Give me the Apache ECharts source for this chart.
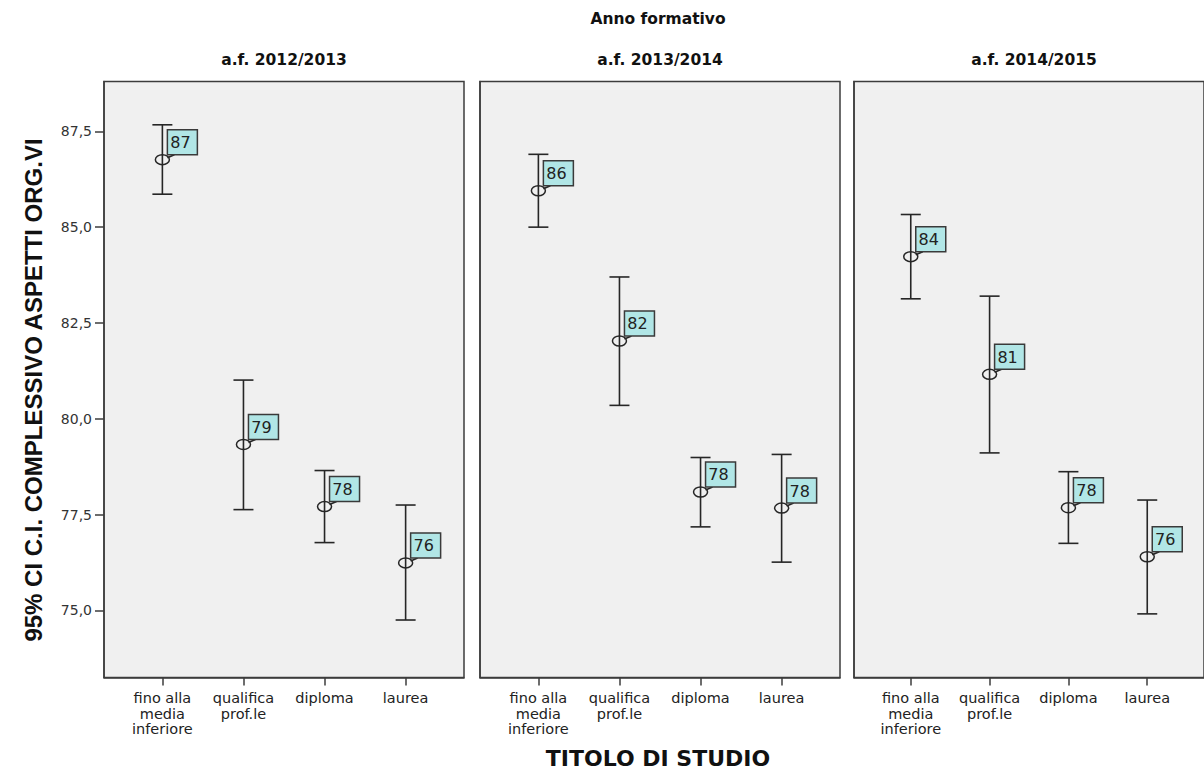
<!DOCTYPE html>
<html><head><meta charset="utf-8">
<script src="https://cdn.jsdelivr.net/npm/echarts@6/dist/echarts.min.js"></script>
<style>html,body{margin:0;padding:0;background:#fff}#c{width:1204px;height:772px}</style>
</head><body><div id="c"></div>
<script>
// ---- data ----
const categories = ['fino alla\nmedia\ninferiore', 'qualifica\nprof.le', 'diploma', 'laurea'];
const panelTitles = ['a.f. 2012/2013', 'a.f. 2013/2014', 'a.f. 2014/2015'];
const means2012 = [86.76, 79.33, 77.71, 76.24];
const lower2012 = [85.86, 77.63, 76.77, 74.75];
const upper2012 = [87.67, 81.01, 78.65, 77.75];
const labels2012 = [87, 79, 78, 76];
const means2013 = [85.95, 82.03, 78.09, 77.67];
const lower2013 = [85.00, 80.35, 77.18, 76.26];
const upper2013 = [86.90, 83.70, 78.99, 79.07];
const labels2013 = [86, 82, 78, 78];
const means2014 = [84.23, 81.16, 77.68, 76.40];
const lower2014 = [83.13, 79.11, 76.75, 74.91];
const upper2014 = [85.33, 83.20, 78.62, 77.88];
const labels2014 = [84, 81, 78, 76];
const yTicks = [75, 77.5, 80, 82.5, 85, 87.5];
const xTicks = [1, 2, 3, 4];

const panelData = [
  [means2012, lower2012, upper2012, labels2012],
  [means2013, lower2013, upper2013, labels2013],
  [means2014, lower2014, upper2014, labels2014]
];

// ---- layout ----
const gridLefts = [104, 480, 854];
const gridW = 360, gridTop = 81.5, gridH = 596;
const FONT = "'DejaVu Sans', 'Liberation Sans', sans-serif";

const chart = echarts.init(document.getElementById('c'), null, {renderer: 'svg'});

function renderItem(params, api) {
  const x = api.value(0), m = api.value(1), lo = api.value(2), hi = api.value(3), lab = api.value(4);
  const pm = api.coord([x, m]), pl = api.coord([x, lo]), ph = api.coord([x, hi]);
  const cx = pm[0], cy = pm[1];
  const ls = {stroke: '#262626', lineWidth: 1.6, fill: null};
  const bx = cx + 5, bh = 25, bw = 30, by = cy - 5 - bh;
  return {
    type: 'group',
    children: [
      {type: 'line', shape: {x1: cx, y1: ph[1], x2: cx, y2: pl[1]}, style: ls},
      {type: 'line', shape: {x1: cx - 10, y1: ph[1], x2: cx + 10, y2: ph[1]}, style: ls},
      {type: 'line', shape: {x1: cx - 10, y1: pl[1], x2: cx + 10, y2: pl[1]}, style: ls},
      {type: 'ellipse', shape: {cx: cx, cy: cy, rx: 7, ry: 5}, style: {stroke: '#262626', lineWidth: 1.5, fill: 'rgba(0,0,0,0)'}},
      {type: 'line', shape: {x1: cx + 5, y1: cy - 2, x2: cx + 12, y2: cy - 5}, style: ls},
      {type: 'rect', shape: {x: bx, y: by, width: bw, height: bh}, style: {fill: '#b1e6e6', stroke: '#3a3a3a', lineWidth: 1.5}},
      {type: 'text', x: bx + 13, y: by + bh / 2 + 0.5,
        style: {text: String(lab), align: 'center', verticalAlign: 'middle', fontSize: 16, fontFamily: FONT, fill: '#222'}}
    ]
  };
}

const grids = [], xAxes = [], yAxes = [], series = [];
for (let p = 0; p < 3; p++) {
  grids.push({left: gridLefts[p], top: gridTop, width: gridW, height: gridH, show: true,
    backgroundColor: '#f0f0f0', borderColor: '#3c3c3c', borderWidth: 1.5, containLabel: false});
  xAxes.push({
    type: 'value', gridIndex: p, min: 0.28, max: 4.72,
    axisLine: {show: true, lineStyle: {color: '#3c3c3c', width: 1.5}},
    axisTick: {show: true, length: 8, customValues: xTicks, lineStyle: {color: '#3c3c3c', width: 1.5}},
    axisLabel: {show: true, customValues: xTicks, margin: 13, lineHeight: 15.5, fontSize: 14.5,
      fontFamily: FONT, color: '#222', align: 'center',
      formatter: v => categories[Math.round(v) - 1] || ''},
    splitLine: {show: false}
  });
  yAxes.push({
    type: 'value', gridIndex: p, min: 73.25, max: 88.8,
    axisLine: {show: true, lineStyle: {color: '#3c3c3c', width: 1.5}},
    axisTick: {show: p === 0, length: 9, customValues: yTicks, lineStyle: {color: '#3c3c3c', width: 1.5}},
    axisLabel: {show: p === 0, customValues: yTicks, margin: 12, fontSize: 14, fontFamily: FONT, color: '#333',
      formatter: v => v.toFixed(1).replace('.', ',')},
    splitLine: {show: false}
  });
  const d = panelData[p];
  const rows = xTicks.map((xv, i) => [xv, d[0][i], d[1][i], d[2][i], d[3][i]]);
  series.push({
    type: 'custom', xAxisIndex: p, yAxisIndex: p, renderItem: renderItem,
    encode: {x: 0, y: [1, 2, 3]}, data: rows, silent: true, clip: false
  });
}

const graphics = [
  {type: 'text', x: 658, y: 19, style: {text: 'Anno formativo', align: 'center', verticalAlign: 'middle',
    fontSize: 15.5, fontWeight: 'bold', fontFamily: FONT, fill: '#111'}},
  {type: 'text', x: 658, y: 758, style: {text: 'TITOLO DI STUDIO', align: 'center', verticalAlign: 'middle',
    fontSize: 22, fontWeight: 'bold', fontFamily: FONT, fill: '#111'}},
  {type: 'text', x: 33, y: 390, rotation: Math.PI / 2, style: {text: '95% CI C.I. COMPLESSIVO ASPETTI ORG.VI',
    align: 'center', verticalAlign: 'middle', fontSize: 24, fontWeight: 'bold',
    fontFamily: "'Liberation Sans', Arial, sans-serif", fill: '#111'}}
];
for (let p = 0; p < 3; p++) {
  graphics.push({type: 'text', x: gridLefts[p] + gridW / 2, y: 60,
    style: {text: panelTitles[p], align: 'center', verticalAlign: 'middle',
      fontSize: 15.5, fontWeight: 'bold', fontFamily: FONT, fill: '#111'}});
}

chart.setOption({
  backgroundColor: '#ffffff',
  animation: false,
  grid: grids, xAxis: xAxes, yAxis: yAxes, series: series,
  graphic: graphics
});
</script></body></html>
